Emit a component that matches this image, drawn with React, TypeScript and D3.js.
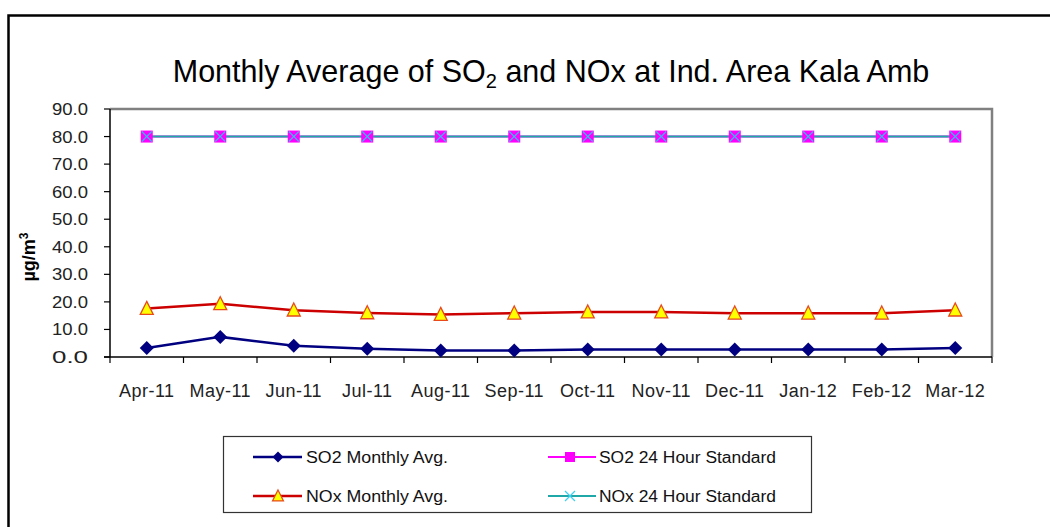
import React from "react";
import * as d3 from "d3";

const months = ["Apr-11","May-11","Jun-11","Jul-11","Aug-11","Sep-11","Oct-11","Nov-11","Dec-11","Jan-12","Feb-12","Mar-12"];
const so2Avg = [3.3, 7.3, 4.1, 3.0, 2.4, 2.4, 2.7, 2.7, 2.7, 2.7, 2.7, 3.3];
const noxAvg = [17.6, 19.3, 17.0, 16.0, 15.4, 15.9, 16.3, 16.3, 15.9, 15.9, 15.9, 17.0];
const so2Std = [80, 80, 80, 80, 80, 80, 80, 80, 80, 80, 80, 80];
const noxStd = [80, 80, 80, 80, 80, 80, 80, 80, 80, 80, 80, 80];
const yTicks = [0, 10, 20, 30, 40, 50, 60, 70, 80, 90];

const FONT = "'Liberation Sans', Arial, sans-serif";

const diamond = (cx: number, cy: number, r: number) =>
  `M${cx},${cy - r}L${cx + r},${cy}L${cx},${cy + r}L${cx - r},${cy}Z`;
const triangle = (cx: number, cy: number, s: number) =>
  `M${cx},${cy - s * 0.55}L${cx + s * 0.5},${cy + s * 0.45}L${cx - s * 0.5},${cy + s * 0.45}Z`;

function SquareX({ cx, cy }: { cx: number; cy: number }) {
  return (
    <g>
      <rect x={cx - 6} y={cy - 6} width={12} height={12} fill="#FF00FF" />
      <path d={`M${cx - 5},${cy - 5}L${cx + 5},${cy + 5}M${cx + 5},${cy - 5}L${cx - 5},${cy + 5}`} stroke="#40B0F0" strokeWidth={1.3} />
    </g>
  );
}

export default function App() {
  const W = 1050, H = 527;
  const left = 110, right = 992, top = 109, bottom = 357;
  const x = d3.scaleBand<string>().domain(months).range([left, right]).padding(0);
  const y = d3.scaleLinear().domain([0, 90]).range([bottom, top]);
  const cx = (m: string) => (x(m) as number) + x.bandwidth() / 2;
  const line = d3.line<number>().x((_, i) => cx(months[i])).y((d) => y(d));

  const bounds = months.map((m) => x(m) as number).concat([right]);

  return (
    <svg width={W} height={H} style={{ position: "absolute", left: 0, top: 0, background: "#fff" }}>
      <rect x={0} y={0} width={W} height={H} fill="#fff" />
      {/* outer frame */}
      <path d={`M8.5,${H + 5}V15.5H${W + 5}`} fill="none" stroke="#000" strokeWidth={2.5} />

      {/* title */}
      <text x={551} y={82} textAnchor="middle" fontFamily={FONT} fontSize={30.5} fill="#000">
        Monthly Average of SO<tspan fontSize={20} dy={6}>2</tspan>
        <tspan dy={-6}> and NOx at Ind. Area Kala Amb</tspan>
      </text>

      {/* plot border gray top/right */}
      <path d={`M${left},${top}H${right}V${bottom}`} fill="none" stroke="#808080" strokeWidth={2.5} />
      {/* axes */}
      <line x1={left} x2={left} y1={top} y2={bottom} stroke="#000" strokeWidth={1.5} />
      <line x1={left - 6} x2={right} y1={bottom} y2={bottom} stroke="#000" strokeWidth={1.5} />

      {yTicks.map((t) => (
        <g key={t}>
          <line x1={left - 6} x2={left} y1={y(t)} y2={y(t)} stroke="#000" strokeWidth={1.2} />
          <text x={88} y={y(t) + 6} textAnchor="end" fontFamily={FONT} fontSize={17} fill="#222" textLength={36} lengthAdjust="spacingAndGlyphs">
            {t.toFixed(1)}
          </text>
        </g>
      ))}
      {bounds.map((b, i) => (
        <line key={i} x1={b} x2={b} y1={bottom} y2={bottom + 6} stroke="#000" strokeWidth={1.2} />
      ))}
      {months.map((m) => (
        <text key={m} x={cx(m)} y={397} textAnchor="middle" fontFamily={FONT} fontSize={18} fill="#222" letterSpacing={0.5}>
          {m}
        </text>
      ))}

      {/* y axis title */}
      <text transform="translate(35,257) rotate(-90)" textAnchor="middle" fontFamily={FONT} fontSize={18} fontWeight="bold" fill="#000">
        µg/m<tspan fontSize={12} dy={-7}>3</tspan>
      </text>

      {/* series */}
      <path d={line(so2Std) as string} fill="none" stroke="#FF00FF" strokeWidth={2} />
      <path d={line(noxStd) as string} fill="none" stroke="#20A8A8" strokeWidth={2} />
      {so2Std.map((v, i) => (
        <SquareX key={i} cx={cx(months[i])} cy={y(v)} />
      ))}

      <path d={line(noxAvg) as string} fill="none" stroke="#CC0000" strokeWidth={2.5} />
      {noxAvg.map((v, i) => (
        <path key={i} d={triangle(cx(months[i]), y(v), 13)} fill="#FFFF00" stroke="#E84A1A" strokeWidth={1.3} />
      ))}

      <path d={line(so2Avg) as string} fill="none" stroke="#000080" strokeWidth={2.5} />
      {so2Avg.map((v, i) => (
        <path key={i} d={diamond(cx(months[i]), y(v), 7)} fill="#000080" />
      ))}

      {/* legend */}
      <rect x={223.5} y={436.5} width={588} height={76} fill="#fff" stroke="#333" strokeWidth={1.2} />
      <g fontFamily={FONT} fontSize={16} fill="#111">
        <line x1={253} x2={302} y1={457} y2={457} stroke="#000080" strokeWidth={2.5} />
        <path d={diamond(278, 457, 5.5)} fill="#000080" />
        <text x={306} y={463} textLength={142} lengthAdjust="spacingAndGlyphs">SO2 Monthly Avg.</text>

        <line x1={253} x2={302} y1={496} y2={496} stroke="#CC0000" strokeWidth={2.5} />
        <path d={triangle(278, 496, 11)} fill="#FFFF00" stroke="#E84A1A" strokeWidth={1.2} />
        <text x={306} y={502} textLength={142} lengthAdjust="spacingAndGlyphs">NOx Monthly Avg.</text>

        <line x1={548} x2={596} y1={457} y2={457} stroke="#FF00FF" strokeWidth={2} />
        <rect x={565} y={452} width={10} height={10} fill="#FF00FF" />
        <text x={599} y={463} textLength={177} lengthAdjust="spacingAndGlyphs">SO2 24 Hour Standard</text>

        <line x1={548} x2={596} y1={496} y2={496} stroke="#20A8A8" strokeWidth={2} />
        <path d="M565,491L575,501M575,491L565,501" stroke="#40D0F0" strokeWidth={1.3} />
        <text x={599} y={502} textLength={177} lengthAdjust="spacingAndGlyphs">NOx 24 Hour Standard</text>
      </g>
    </svg>
  );
}
